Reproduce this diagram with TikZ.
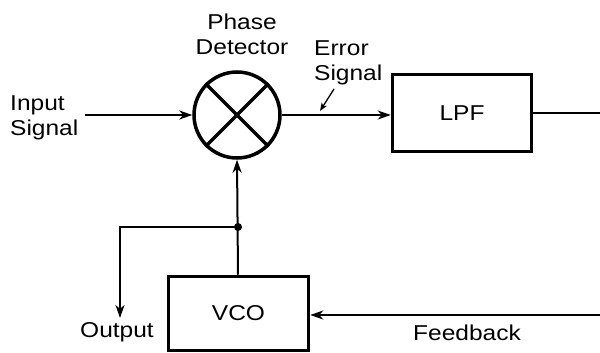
\documentclass[tikz,border=0pt]{standalone}
\usepackage{fontspec}
\setmainfont[FakeStretch=1.14]{Liberation Sans}
\usetikzlibrary{arrows.meta}
\begin{document}
\begin{tikzpicture}[x=1pt,y=-1pt,
  lbl/.style={font=\fontsize{21.5}{25}\selectfont, inner sep=0pt},
  blk/.style={draw, line width=3.5pt, minimum width=#1, inner sep=0pt},
  conn/.style={line width=2pt},
  arr/.style={conn, -{Stealth[length=13pt,width=9pt,inset=4pt]}}]
\useasboundingbox (0,0) rectangle (600,353);
\node[draw, circle, line width=3.5pt, minimum size=86pt, inner sep=0pt] (pd) at (237,115) {};
\draw[line width=3.5pt] (pd.45) -- (pd.225) (pd.135) -- (pd.315);
\node[blk=139pt, minimum height=77pt] (lpf) at (462,113) {};
\node[lbl] at (lpf.center) {LPF};
\node[blk=140pt, minimum height=74pt] (vco) at (238.5,313.5) {};
\node[lbl] at (vco.center) {VCO};
\coordinate (inp) at (85,115);
\coordinate (lpfo) at (600,113);
\coordinate (fb) at (600,315);
\coordinate (jn) at (238,227);
\coordinate (oc) at (120,227);
\coordinate (oe) at (120,318);
\coordinate (ea) at (334,89);
\coordinate (eb) at (320,111);
\draw[arr] (inp) -- (pd.west);
\draw[arr] (pd.east) -- (lpf.west |- pd.east);
\draw[conn] (lpf.east) -- (lpfo);
\draw[arr] (fb) -- (vco.east |- fb);
\draw[arr] (vco.north -| jn) -- (pd.south);
\draw[arr] (jn) -- (oc) -- (oe);
\fill (jn) circle (4pt);
\draw[line width=1.3pt, -{Stealth[length=8pt,width=6pt,inset=2pt]}] (ea) -- (eb);
\node[lbl, align=left, anchor=west] (in) at (10,118) {Input\\Signal};
\node[lbl, align=center] (pdl) at (242,34) {Phase\\Detector};
\node[lbl, align=left, anchor=west] (es) at (314,63) {Error\\Signal};
\node[lbl] (out) at (117,332) {Output};
\node[lbl] (fbl) at (467,333) {Feedback};
\end{tikzpicture}
\end{document}
